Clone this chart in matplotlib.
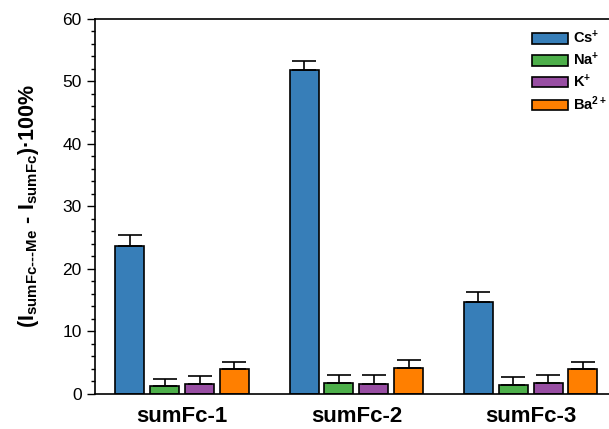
import matplotlib
matplotlib.use("Agg")
import matplotlib.pyplot as plt
import numpy as np
from matplotlib.ticker import MultipleLocator

plt.rcParams['font.family'] = ['Liberation Sans', 'DejaVu Sans']
plt.rcParams['mathtext.fontset'] = 'custom'
plt.rcParams['mathtext.rm'] = 'Liberation Sans:bold'
plt.rcParams['mathtext.it'] = 'Liberation Sans:bold'
plt.rcParams['mathtext.bf'] = 'Liberation Sans:bold'
plt.rcParams['mathtext.sf'] = 'Liberation Sans:bold'

groups = ['sumFc-1', 'sumFc-2', 'sumFc-3']
ions = ['Cs$^{+}$', 'Na$^{+}$', 'K$^{+}$', 'Ba$^{2+}$']
cs = [23.7, 51.9, 14.6]
cs_err = [1.7, 1.4, 1.7]
na = [1.2, 1.7, 1.4]
na_err = [1.15, 1.25, 1.2]
k = [1.45, 1.45, 1.65]
k_err = [1.35, 1.5, 1.3]
ba = [3.85, 4.1, 3.9]
ba_err = [1.15, 1.2, 1.1]
colors = ['#377eb8', '#4daf4a', '#984ea3', '#ff7f00']

series = [cs, na, k, ba]
errs = [cs_err, na_err, k_err, ba_err]

fig = plt.figure(figsize=(6.09, 4.29), dpi=100)
ax = fig.add_axes([95/609, 1-393.5/429, 522.75/609, (393.5-19)/429])

x = np.arange(len(groups))
offsets = [-0.3, -0.1, 0.1, 0.3]
w = 0.167
for vals, err, col, lab, off in zip(series, errs, colors, ions, offsets):
    ax.bar(x + off, vals, width=w, color=col, edgecolor='black', linewidth=1.2,
           label=lab, zorder=2,
           yerr=[np.zeros(len(err)), err], capsize=8.5,
           error_kw=dict(elinewidth=1.2, capthick=1.2, ecolor='black'))

ax.set_xlim(-0.5, 2.5)
ax.set_ylim(0, 60)
ax.set_xticks(x)
ax.set_xticklabels(groups, fontsize=16, fontweight='bold')
ax.tick_params(axis='x', length=0, pad=9)
ax.yaxis.set_major_locator(MultipleLocator(10))
ax.yaxis.set_minor_locator(MultipleLocator(2))
ax.tick_params(axis='y', which='major', direction='out', length=6, width=1, labelsize=12.5)
ax.tick_params(axis='y', which='minor', direction='out', length=3, width=1)
for s in ax.spines.values():
    s.set_linewidth(1.2)

ax.set_ylabel(r'$(I_{\text{sumFc---Me}}\ \text{-}\ I_{\text{sumFc}})$·100%',
              fontsize=15.5, fontweight='bold')
ax.yaxis.set_label_coords(-0.103, 0.5)

leg = ax.legend(loc='upper left', bbox_to_anchor=(0.836, 0.972), frameon=False,
                fontsize=10.5, handlelength=2.5, handleheight=0.75,
                labelspacing=0.3, handletextpad=0.3, borderaxespad=0,
                borderpad=0)
for t in leg.get_texts():
    t.set_fontweight('bold')

fig.savefig('out.png', dpi=100)
